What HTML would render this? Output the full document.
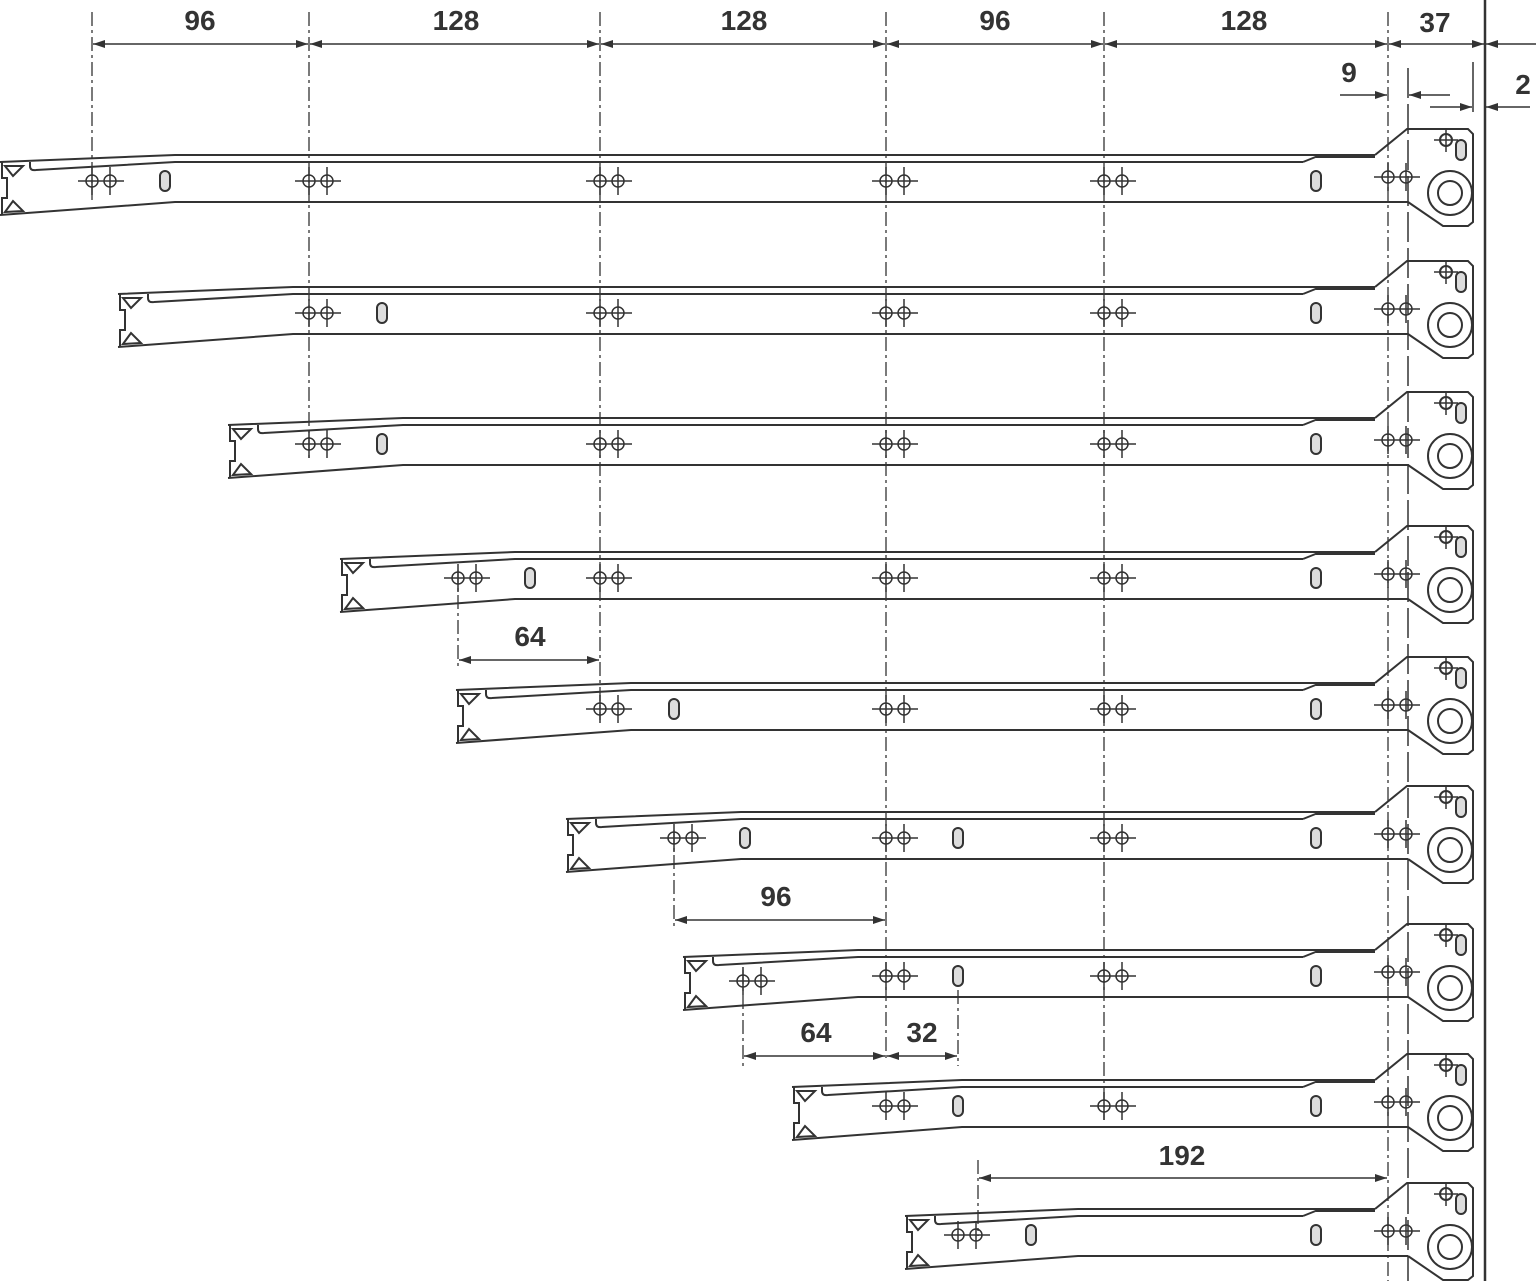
<!DOCTYPE html>
<html><head><meta charset="utf-8"><style>
html,body{margin:0;padding:0;background:#fff;}
svg{display:block}
text{font-family:"Liberation Sans",sans-serif;font-weight:bold;font-size:28px;fill:#333;text-anchor:middle}
</style></head><body>
<svg width="1536" height="1281" viewBox="0 0 1536 1281" xmlns="http://www.w3.org/2000/svg">
<defs>
<marker id="ar" viewBox="0 0 12 8" refX="12" refY="4" markerWidth="12" markerHeight="8" markerUnits="userSpaceOnUse" orient="auto-start-reverse"><path d="M0,0 L12,4 L0,8z" fill="#333"/></marker>
<g id="br" fill="none" stroke="#333" stroke-width="2">
<path d="M1375,155 L1407,129 L1468,129 L1473,134 L1473,222 L1468,226 L1443,226 L1408,202"/>
<path d="M1316,156 L1375,156" stroke-width="4"/>
<path d="M1303,162 L1318,156"/>
<circle cx="1450" cy="193" r="22"/><circle cx="1450" cy="193" r="12"/>
<circle cx="1446" cy="140" r="6"/><path d="M1434,140h24M1446,128v24" stroke-width="1.5"/>
<rect x="1456" y="140" width="10" height="20" rx="5" fill="#ddd"/>
</g>
<g id="le" fill="none" stroke="#333" stroke-width="2">
<path d="M2,162 L2,178 L7,178 L7,198 L2,198 L2,215"/>
<path d="M5,166 L23,166 L13,176z M5,212 L13,201 L23,211z"/>
<path d="M30,162 L30,166 Q30,171 36,170"/>
</g>
<g id="dh" fill="none" stroke="#333" stroke-width="1.5">
<circle cx="0" cy="0" r="6"/><circle cx="18" cy="0" r="6"/>
<path d="M-14,0h46M0,-14v28M18,-14v28"/>
</g>
<rect id="sl" x="-5" y="-10" width="10" height="20" rx="5" fill="#ddd" stroke="#333" stroke-width="2"/>
</defs>

<g stroke="#333" stroke-width="1.3" fill="none" stroke-dasharray="14,4,3,4">
<path d="M92,12V200M309,12V460M600,12V720M886,12V1060M1104,12V1120M1388,12V1281M458,570V668M674,830V930M743,970V1066M958,965V1066M978,1160V1236"/>
</g>
<path d="M1408,68V1281" stroke="#333" stroke-width="1.5" stroke-dasharray="30,6"/>
<path d="M1473,62V112" stroke="#333" stroke-width="1.5"/>
<path d="M1485,0V1281" stroke="#333" stroke-width="2.5"/>

<g>
<g transform="translate(0,0)"><path d="M0,162 L175,155 L1375,155 M1408,202 L175,202 L0,215 M36,170 L175,162 L1303,162" fill="none" stroke="#333" stroke-width="2"/><use href="#br"/><use href="#le" x="0"/>
<use href="#dh" x="92" y="181"/><use href="#dh" x="309" y="181"/><use href="#dh" x="600" y="181"/><use href="#dh" x="886" y="181"/><use href="#dh" x="1104" y="181"/><use href="#dh" x="1388" y="177"/><use href="#sl" x="165" y="181"/><use href="#sl" x="1316" y="181"/></g>
<g transform="translate(0,132)"><path d="M118,162 L293,155 L1375,155 M1408,202 L293,202 L118,215 M154,170 L293,162 L1303,162" fill="none" stroke="#333" stroke-width="2"/><use href="#br"/><use href="#le" x="118"/>
<use href="#dh" x="309" y="181"/><use href="#dh" x="600" y="181"/><use href="#dh" x="886" y="181"/><use href="#dh" x="1104" y="181"/><use href="#dh" x="1388" y="177"/><use href="#sl" x="382" y="181"/><use href="#sl" x="1316" y="181"/></g>
<g transform="translate(0,263)"><path d="M228,162 L403,155 L1375,155 M1408,202 L403,202 L228,215 M264,170 L403,162 L1303,162" fill="none" stroke="#333" stroke-width="2"/><use href="#br"/><use href="#le" x="228"/>
<use href="#dh" x="309" y="181"/><use href="#dh" x="600" y="181"/><use href="#dh" x="886" y="181"/><use href="#dh" x="1104" y="181"/><use href="#dh" x="1388" y="177"/><use href="#sl" x="382" y="181"/><use href="#sl" x="1316" y="181"/></g>
<g transform="translate(0,397)"><path d="M340,162 L515,155 L1375,155 M1408,202 L515,202 L340,215 M376,170 L515,162 L1303,162" fill="none" stroke="#333" stroke-width="2"/><use href="#br"/><use href="#le" x="340"/>
<use href="#dh" x="458" y="181"/><use href="#dh" x="600" y="181"/><use href="#dh" x="886" y="181"/><use href="#dh" x="1104" y="181"/><use href="#dh" x="1388" y="177"/><use href="#sl" x="530" y="181"/><use href="#sl" x="1316" y="181"/></g>
<g transform="translate(0,528)"><path d="M456,162 L631,155 L1375,155 M1408,202 L631,202 L456,215 M492,170 L631,162 L1303,162" fill="none" stroke="#333" stroke-width="2"/><use href="#br"/><use href="#le" x="456"/>
<use href="#dh" x="600" y="181"/><use href="#dh" x="886" y="181"/><use href="#dh" x="1104" y="181"/><use href="#dh" x="1388" y="177"/><use href="#sl" x="674" y="181"/><use href="#sl" x="1316" y="181"/></g>
<g transform="translate(0,657)"><path d="M566,162 L741,155 L1375,155 M1408,202 L741,202 L566,215 M602,170 L741,162 L1303,162" fill="none" stroke="#333" stroke-width="2"/><use href="#br"/><use href="#le" x="566"/>
<use href="#dh" x="674" y="181"/><use href="#dh" x="886" y="181"/><use href="#dh" x="1104" y="181"/><use href="#dh" x="1388" y="177"/><use href="#sl" x="745" y="181"/><use href="#sl" x="958" y="181"/><use href="#sl" x="1316" y="181"/></g>
<g transform="translate(0,795)"><path d="M683,162 L858,155 L1375,155 M1408,202 L858,202 L683,215 M719,170 L858,162 L1303,162" fill="none" stroke="#333" stroke-width="2"/><use href="#br"/><use href="#le" x="683"/>
<use href="#dh" x="743" y="186"/><use href="#dh" x="886" y="181"/><use href="#dh" x="1104" y="181"/><use href="#dh" x="1388" y="177"/><use href="#sl" x="958" y="181"/><use href="#sl" x="1316" y="181"/></g>
<g transform="translate(0,925)"><path d="M792,162 L962,155 L1375,155 M1408,202 L962,202 L792,215 M828,170 L962,162 L1303,162" fill="none" stroke="#333" stroke-width="2"/><use href="#br"/><use href="#le" x="792"/>
<use href="#dh" x="886" y="181"/><use href="#dh" x="1104" y="181"/><use href="#dh" x="1388" y="177"/><use href="#sl" x="958" y="181"/><use href="#sl" x="1316" y="181"/></g>
<g transform="translate(0,1054)"><path d="M905,162 L1078,155 L1375,155 M1408,202 L1078,202 L905,215 M941,170 L1078,162 L1303,162" fill="none" stroke="#333" stroke-width="2"/><use href="#br"/><use href="#le" x="905"/>
<use href="#dh" x="958" y="181"/><use href="#dh" x="1388" y="177"/><use href="#sl" x="1031" y="181"/><use href="#sl" x="1316" y="181"/></g>
</g>

<g stroke="#333" stroke-width="1.5" fill="none">
<path d="M93,44H308" marker-start="url(#ar)" marker-end="url(#ar)"/>
<path d="M310,44H599" marker-start="url(#ar)" marker-end="url(#ar)"/>
<path d="M601,44H885" marker-start="url(#ar)" marker-end="url(#ar)"/>
<path d="M887,44H1103" marker-start="url(#ar)" marker-end="url(#ar)"/>
<path d="M1105,44H1387" marker-start="url(#ar)" marker-end="url(#ar)"/>
<path d="M1389,44H1484" marker-start="url(#ar)" marker-end="url(#ar)"/>
<path d="M1536,44H1486" marker-end="url(#ar)"/>
<path d="M1340,95H1387" marker-end="url(#ar)"/>
<path d="M1450,95H1409" marker-end="url(#ar)"/>
<path d="M1430,107H1472" marker-end="url(#ar)"/>
<path d="M1530,107H1486" marker-end="url(#ar)"/>
<path d="M459,660H599" marker-start="url(#ar)" marker-end="url(#ar)"/>
<path d="M675,920H885" marker-start="url(#ar)" marker-end="url(#ar)"/>
<path d="M744,1056H885" marker-start="url(#ar)" marker-end="url(#ar)"/>
<path d="M887,1056H957" marker-start="url(#ar)" marker-end="url(#ar)"/>
<path d="M979,1178H1387" marker-start="url(#ar)" marker-end="url(#ar)"/>
</g>
<text x="200" y="30">96</text>
<text x="456" y="30">128</text>
<text x="744" y="30">128</text>
<text x="995" y="30">96</text>
<text x="1244" y="30">128</text>
<text x="1435" y="32">37</text>
<text x="1349" y="82">9</text>
<text x="1523" y="94">2</text>
<text x="530" y="646">64</text>
<text x="776" y="906">96</text>
<text x="816" y="1042">64</text>
<text x="922" y="1042">32</text>
<text x="1182" y="1165">192</text>
</svg>
</body></html>
